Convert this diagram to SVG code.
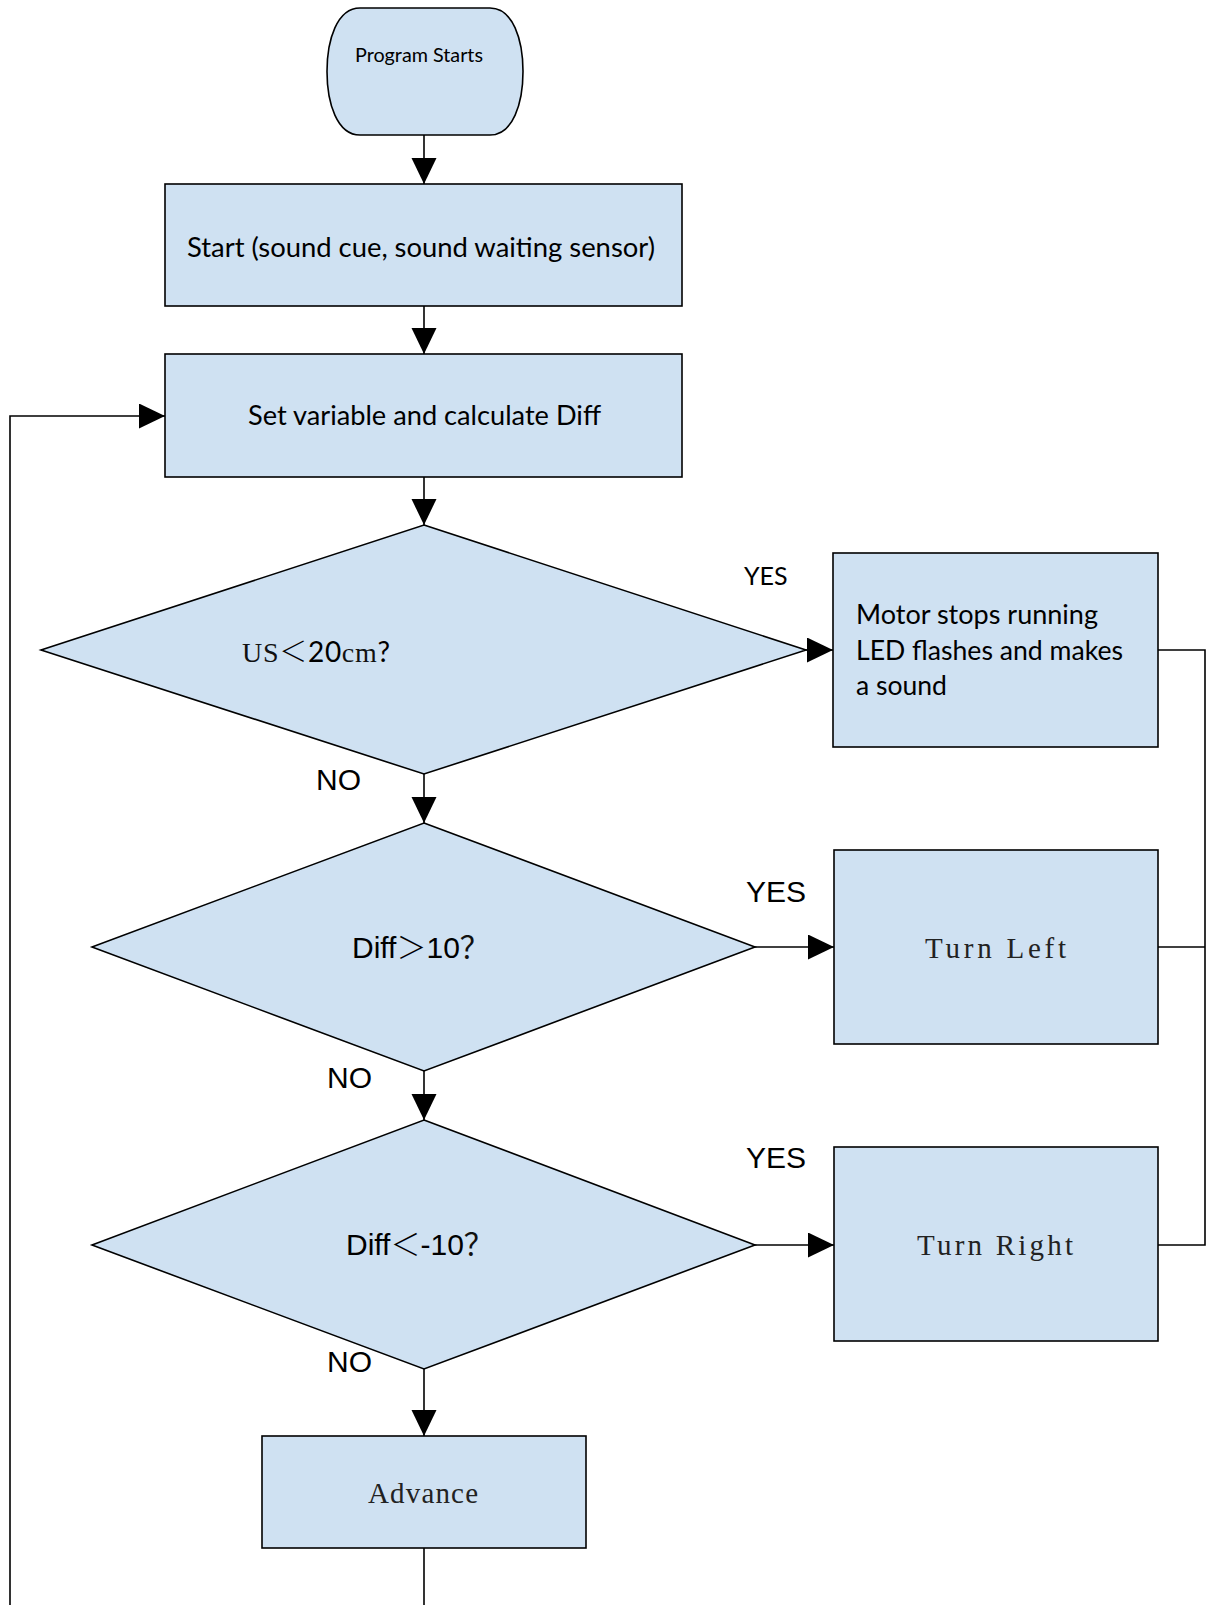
<svg xmlns="http://www.w3.org/2000/svg" width="1207" height="1605" viewBox="0 0 1207 1605">
<style>
.shape{fill:#cfe1f2;stroke:#000;stroke-width:1.6}
.conn{fill:none;stroke:#000;stroke-width:1.6}
.cal{font-family:Lato,"Open Sans","Liberation Sans",sans-serif;fill:#000}
.ari{font-family:"Liberation Sans",Arial,"Noto Sans CJK SC",sans-serif;fill:#000}
.ser{font-family:"Liberation Serif","Noto Sans CJK SC",serif;fill:#111}
.mono{font-family:"Liberation Serif",serif;fill:#222}
.cjk{font-family:"Noto Sans CJK SC",sans-serif;font-weight:300}
</style>
<defs>
<marker id="ah" markerUnits="userSpaceOnUse" markerWidth="26" markerHeight="26" refX="26" refY="12.5" orient="auto">
<path d="M0,0 L26,12.5 L0,25 z" fill="#000"/>
</marker>
</defs>
<rect width="1207" height="1605" fill="#fff"/>

<g id="connectors">
<line class="conn" x1="424" y1="135" x2="424" y2="184" marker-end="url(#ah)"/>
<line class="conn" x1="424" y1="306" x2="424" y2="354" marker-end="url(#ah)"/>
<line class="conn" x1="424" y1="477" x2="424" y2="525" marker-end="url(#ah)"/>
<line class="conn" x1="806" y1="650" x2="833" y2="650" marker-end="url(#ah)"/>
<line class="conn" x1="424" y1="774" x2="424" y2="823" marker-end="url(#ah)"/>
<line class="conn" x1="755" y1="947" x2="834" y2="947" marker-end="url(#ah)"/>
<line class="conn" x1="424" y1="1071" x2="424" y2="1120" marker-end="url(#ah)"/>
<line class="conn" x1="755" y1="1245" x2="834" y2="1245" marker-end="url(#ah)"/>
<line class="conn" x1="424" y1="1369" x2="424" y2="1436" marker-end="url(#ah)"/>
<line class="conn" x1="424" y1="1548" x2="424" y2="1605"/>
<polyline class="conn" points="10,1605 10,416 165,416" marker-end="url(#ah)"/>
<polyline class="conn" points="1158,650 1205,650 1205,1245 1158,1245"/>
<line class="conn" x1="1158" y1="947" x2="1205" y2="947"/>
<text class="cal" x="744" y="585" font-size="25">YES</text>
<text class="ari" x="316" y="790" font-size="30">NO</text>
<text class="ari" x="746" y="902" font-size="30">YES</text>
<text class="ari" x="327" y="1088" font-size="30">NO</text>
<text class="ari" x="746" y="1168" font-size="30">YES</text>
<text class="ari" x="327" y="1372" font-size="30">NO</text>
</g>

<g id="program-starts">
<path class="shape" d="M360,8 L490,8 C513,8 523,40 523,71.5 C523,103 513,135 490,135 L360,135 C337,135 327,103 327,71.5 C327,40 337,8 360,8 Z"/>
<text class="cal" x="355" y="62" font-size="20" textLength="128" lengthAdjust="spacingAndGlyphs">Program Starts</text>
</g>

<g id="start">
<rect class="shape" x="165" y="184" width="517" height="122"/>
<text class="cal" x="187" y="257" font-size="26" textLength="468" lengthAdjust="spacingAndGlyphs">Start (sound cue, sound waiting sensor)</text>
</g>

<g id="set-variable">
<rect class="shape" x="165" y="354" width="517" height="123"/>
<text class="cal" x="248" y="425" font-size="26" textLength="353" lengthAdjust="spacingAndGlyphs">Set variable and calculate Diff</text>
</g>

<g id="us-check">
<polygon class="shape" points="424,525 806,650 424,774 41,650"/>
<text x="242" y="662" font-size="28" textLength="148" lengthAdjust="spacing"><tspan class="ser">US</tspan><tspan class="cjk">＜</tspan><tspan class="cal">20</tspan><tspan class="ser">cm</tspan><tspan class="cal">?</tspan></text>
</g>

<g id="motor-stops">
<rect class="shape" x="833" y="553" width="325" height="194"/>
<text class="cal" x="856" y="624" font-size="26" textLength="242" lengthAdjust="spacingAndGlyphs">Motor stops running</text>
<text class="cal" x="856" y="660" font-size="26" textLength="267" lengthAdjust="spacingAndGlyphs">LED flashes and makes</text>
<text class="cal" x="856" y="695" font-size="26" textLength="91" lengthAdjust="spacingAndGlyphs">a sound</text>
</g>

<g id="diff-gt">
<polygon class="shape" points="424,823 755,947 424,1071 92,947"/>
<text class="ari" x="352" y="958" font-size="30">Diff<tspan class="cjk">＞</tspan>10<tspan class="ser">？</tspan></text>
</g>

<g id="turn-left">
<rect class="shape" x="834" y="850" width="324" height="194"/>
<text class="mono" x="925" y="958" font-size="29" textLength="141" lengthAdjust="spacing">Turn Left</text>
</g>

<g id="diff-lt">
<polygon class="shape" points="424,1120 755,1245 424,1369 92,1245"/>
<text class="ari" x="346" y="1255" font-size="30">Diff<tspan class="cjk">＜</tspan>-10<tspan class="ser">？</tspan></text>
</g>

<g id="turn-right">
<rect class="shape" x="834" y="1147" width="324" height="194"/>
<text class="mono" x="917" y="1255" font-size="29" textLength="156" lengthAdjust="spacing">Turn Right</text>
</g>

<g id="advance">
<rect class="shape" x="262" y="1436" width="324" height="112"/>
<text class="mono" x="368" y="1503" font-size="29" textLength="110" lengthAdjust="spacing">Advance</text>
</g>
</svg>
